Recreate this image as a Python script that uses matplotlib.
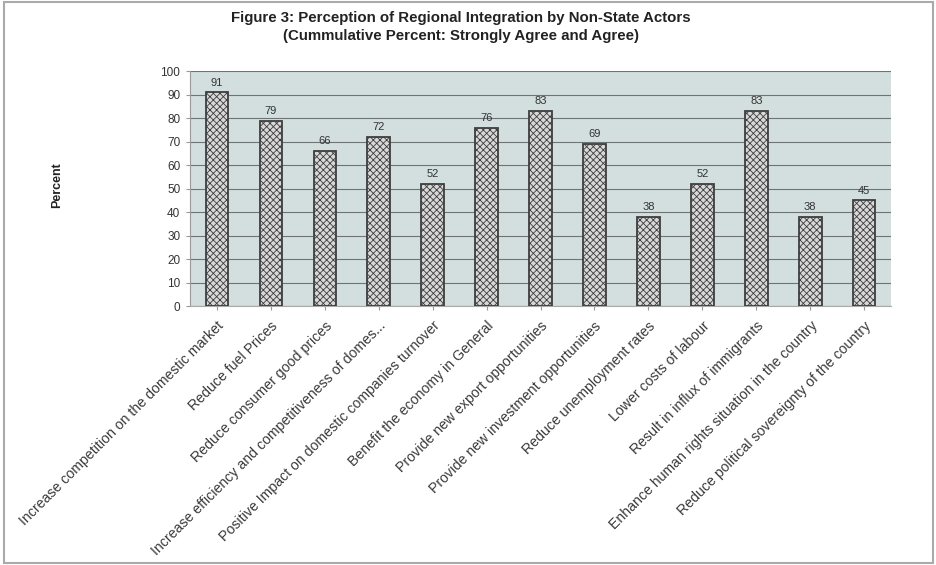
import matplotlib.pyplot as plt
import matplotlib as mpl
from matplotlib.patches import Rectangle

mpl.rcParams['font.family'] = ['Liberation Sans', 'DejaVu Sans']
mpl.rcParams['hatch.color'] = '#5a5a5a'
mpl.rcParams['hatch.linewidth'] = 0.6

categories = [
    "Increase competition on the domestic market",
    "Reduce fuel Prices",
    "Reduce consumer good prices",
    "Increase efficiency and competitiveness of domes...",
    "Positive Impact on domestic companies turnover",
    "Benefit the economy in General",
    "Provide new export opportunities",
    "Provide new investment opportunities",
    "Reduce unemployment rates",
    "Lower costs of labour",
    "Result in influx of immigrants",
    "Enhance human rights situation in the country",
    "Reduce political sovereignty of the country",
]
percent = [91, 79, 66, 72, 52, 76, 83, 69, 38, 52, 83, 38, 45]
yticks = list(range(0, 101, 10))

fig = plt.figure(figsize=(9.36, 5.65), dpi=100)
ax = fig.add_axes([0.203, 0.458, 0.749, 0.416])
ax.set_facecolor('#d3dede')

x = list(range(len(categories)))
bars = ax.bar(x, percent, width=0.42, color='#d8d8d8', edgecolor='#3e3e3e',
              linewidth=1.3, hatch='xxxxx', zorder=3)

for xi, v in zip(x, percent):
    ax.text(xi, v + 2, str(v), ha='center', va='bottom', fontsize=8, color='#333333')

ax.set_xlim(-0.5, len(categories) - 0.5)
ax.set_ylim(0, 100)
ax.set_yticks(yticks)
ax.set_yticklabels([str(t) for t in yticks], fontsize=8.5, color='#333333')
ax.yaxis.grid(True, color='#6e7474', linewidth=0.8, zorder=0)
ax.set_axisbelow(True)

ax.set_xticks(x)
ax.set_xticklabels(categories, rotation=45, ha='right', rotation_mode='anchor',
                   fontsize=10.2, color='#3a3a3a')
ax.tick_params(axis='x', length=3, color='#999999', pad=6)
ax.tick_params(axis='y', length=3, color='#999999', pad=4)

for side in ['top', 'right']:
    ax.spines[side].set_visible(False)
ax.spines['left'].set_color('#999999')
ax.spines['bottom'].set_color('#aaaaaa')

fig.text(0.061, 0.672, "Percent", rotation=90, ha='center', va='center',
         fontsize=9, fontweight='bold', color='#222222')

fig.text(0.492, 0.968, "Figure 3: Perception of Regional Integration by Non-State Actors",
         ha='center', va='center', fontsize=10.8, fontweight='bold', color='#222222')
fig.text(0.492, 0.936, "(Cummulative Percent: Strongly Agree and Agree)",
         ha='center', va='center', fontsize=10.8, fontweight='bold', color='#222222')

fig.patches.append(Rectangle((0.004, 0.003), 0.993, 0.994, transform=fig.transFigure,
                             fill=False, edgecolor='#aaaaaa', linewidth=1.5))

fig.savefig('out.png', dpi=100)
